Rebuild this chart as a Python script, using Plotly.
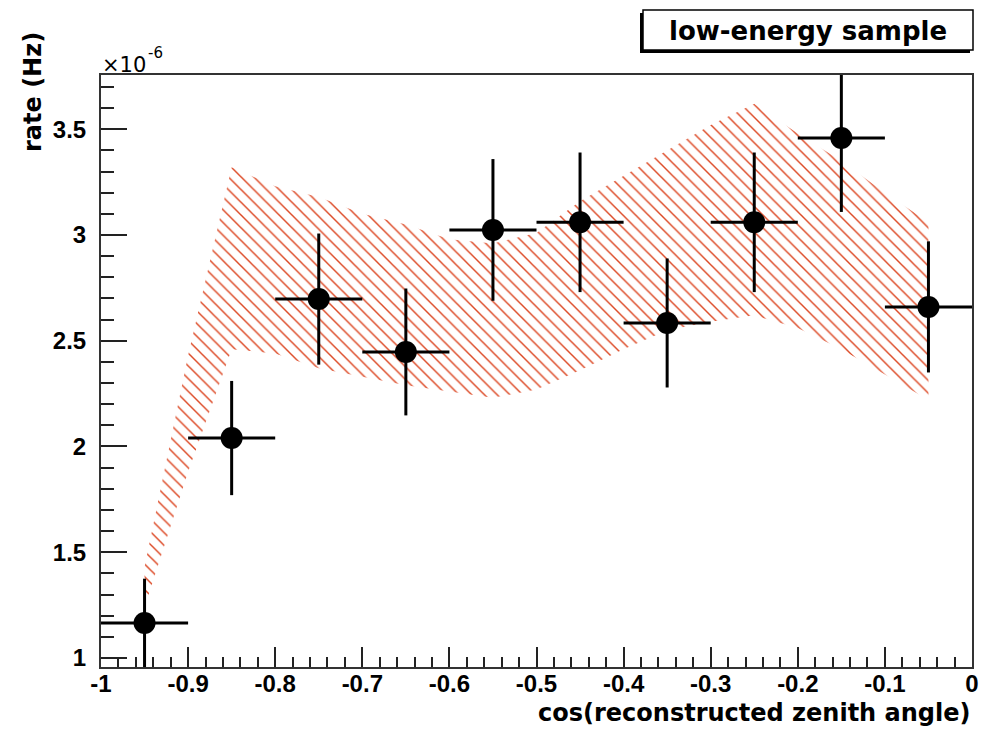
import numpy as np
import plotly.graph_objects as go

# Measured rate per bin of cos(zenith), in units of 1e-6 Hz
cos_zenith = [-0.95, -0.85, -0.75, -0.65, -0.55, -0.45, -0.35, -0.25, -0.15, -0.05]
rate = [1.165, 2.04, 2.697, 2.447, 3.024, 3.06, 2.584, 3.06, 3.459, 2.66]
rate_err = [0.21, 0.27, 0.31, 0.30, 0.335, 0.33, 0.305, 0.33, 0.35, 0.31]
bin_half_width = [0.05] * len(cos_zenith)

# Expected-rate uncertainty band (upper / lower edges)
band_x = [-0.95, -0.90, -0.85, -0.80, -0.75, -0.70, -0.65, -0.60, -0.55, -0.50,
          -0.45, -0.40, -0.35, -0.30, -0.25, -0.20, -0.15, -0.10, -0.05]
band_hi = [1.43, 2.43, 3.32, 3.23, 3.18, 3.10, 3.05, 2.98, 2.96, 3.01,
           3.16, 3.28, 3.40, 3.52, 3.62, 3.48, 3.35, 3.20, 3.06]
band_lo = [1.24, 1.88, 2.46, 2.44, 2.37, 2.33, 2.29, 2.26, 2.23, 2.27,
           2.36, 2.46, 2.55, 2.59, 2.62, 2.56, 2.46, 2.34, 2.22]

# Axis tick labels
x_tick_vals = [-1.0, -0.9, -0.8, -0.7, -0.6, -0.5, -0.4, -0.3, -0.2, -0.1, 0.0]
x_tick_text = ["-1", "-0.9", "-0.8", "-0.7", "-0.6", "-0.5", "-0.4", "-0.3", "-0.2", "-0.1", "0"]
y_tick_vals = [1.0, 1.5, 2.0, 2.5, 3.0, 3.5]
y_tick_text = ["1", "1.5", "2", "2.5", "3", "3.5"]

X_RANGE = [-1.0, 0.0]
Y_RANGE = [0.9574, 3.7565]

W, H = 982, 731
ML, MR, MT, MB = 101, 10, 75, 64
PW, PH = W - ML - MR, H - MT - MB


def px(x):
    return (x - ML) / PW


def py(y):
    return (H - MB - y) / PH


fig = go.Figure()

# hatched band
fig.add_trace(go.Scatter(
    x=band_x + band_x[::-1],
    y=band_hi + band_lo[::-1],
    fill="toself",
    mode="lines",
    line=dict(width=0, color="rgba(0,0,0,0)"),
    fillcolor="rgba(0,0,0,0)",
    fillpattern=dict(shape="\\", size=9, solidity=0.16, fgopacity=1,
                     fgcolor="#dc4824", bgcolor="rgba(255,255,255,0)"),
    hoverinfo="skip",
    showlegend=False,
))

# data points with errors
fig.add_trace(go.Scatter(
    x=cos_zenith,
    y=rate,
    mode="markers",
    marker=dict(size=22, color="black", symbol="circle"),
    error_y=dict(type="data", array=rate_err, visible=True,
                 color="black", thickness=3, width=0),
    error_x=dict(type="data", array=bin_half_width, visible=True,
                 color="black", thickness=3, width=0),
    showlegend=False,
))

tick_font = dict(family="Liberation Sans", size=24, color="black", weight="bold")
title_font = dict(family="DejaVu Sans", size=24, color="black", weight="bold")

fig.update_xaxes(
    range=X_RANGE,
    tickmode="array", tickvals=x_tick_vals, ticktext=x_tick_text,
    ticks="inside", ticklen=20, tickwidth=2, tickcolor="#222",
    minor=dict(tickmode="array", tickvals=list(np.round(np.arange(-1, 0.001, 0.02), 3)),
               ticks="inside", ticklen=10, tickwidth=2, tickcolor="#222"),
    showline=True, linecolor="#333", linewidth=2, mirror=True,
    showgrid=False, zeroline=False,
    tickfont=tick_font, ticklabelstandoff=-6,
)
fig.update_yaxes(
    range=Y_RANGE,
    tickmode="array", tickvals=y_tick_vals, ticktext=y_tick_text,
    ticks="inside", ticklen=26, tickwidth=2, tickcolor="#222",
    minor=dict(tickmode="array", tickvals=list(np.round(np.arange(1.0, 3.76, 0.1), 3)),
               ticks="inside", ticklen=13, tickwidth=2, tickcolor="#222"),
    showline=True, linecolor="#333", linewidth=2, mirror=True,
    showgrid=False, zeroline=False,
    tickfont=tick_font, ticklabelstandoff=8,
)

shapes = [
    # shadow of the label box
    dict(type="rect", xref="paper", yref="paper",
         x0=px(640), x1=px(970), y0=py(53), y1=py(13),
         fillcolor="black", line=dict(width=0)),
    dict(type="rect", xref="paper", yref="paper",
         x0=px(643), x1=px(973), y0=py(50), y1=py(10),
         fillcolor="white", line=dict(color="black", width=1.5)),
]

annotations = [
    dict(text="low-energy sample", xref="paper", yref="paper",
         x=px(808), y=py(31), xanchor="center", yanchor="middle",
         showarrow=False, font=dict(family="DejaVu Sans", size=26, color="black", weight="bold")),
    dict(text="cos(reconstructed zenith angle)", xref="paper", yref="paper",
         x=1.0, y=py(713), xanchor="right", yanchor="middle",
         showarrow=False, font=title_font),
    dict(text="rate (Hz)", xref="paper", yref="paper", textangle=-90,
         x=px(33), y=py(92), xanchor="center", yanchor="middle",
         showarrow=False, font=title_font),
    # axis multiplier: ×10 with exponent
    dict(text="×10", xref="paper", yref="paper",
         x=px(100), y=py(65), xanchor="left", yanchor="middle",
         showarrow=False, font=dict(family="DejaVu Sans", size=21, color="black")),
    dict(text="-6", xref="paper", yref="paper",
         x=px(146), y=py(53), xanchor="left", yanchor="middle",
         showarrow=False, font=dict(family="DejaVu Sans", size=15, color="black")),
]

fig.update_layout(
    width=W, height=H,
    margin=dict(l=ML, r=MR, t=MT, b=MB, autoexpand=False),
    paper_bgcolor="white", plot_bgcolor="white",
    shapes=shapes, annotations=annotations,
    showlegend=False,
)

fig.write_html("out.html")
